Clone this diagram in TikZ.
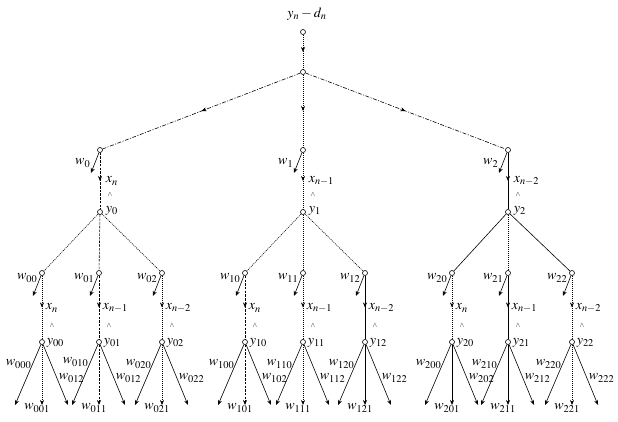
\documentclass[tikz,border=0pt]{standalone}
\usepackage{mathptmx}
\usetikzlibrary{arrows.meta,decorations.markings}

\tikzset{
  pt/.style={circle,draw,fill=white,inner sep=0pt,minimum size=5pt},
  lbl/.style={inner sep=0.5pt,font=\fontsize{14}{16}\selectfont},
  hat/.style={inner sep=0pt,font=\scriptsize},
  tip/.style={-{Stealth[length=5pt,width=4pt]}},
  mid/.style={postaction={decorate},
    decoration={markings,mark=at position 0.5 with {\arrow{Stealth[length=5pt,width=4pt]}}}},
  dt/.style={dash pattern=on 1pt off 1pt},
  ds/.style={dash pattern=on 2.5pt off 1.2pt},
  dd/.style={dash pattern=on 4pt off 1.5pt on 1pt off 1.5pt},
}

\begin{document}
\begin{tikzpicture}[x=1pt,y=-1pt,line width=0.6pt]
  \useasboundingbox (0,0) rectangle (618,422);

  % top and root
  \node[lbl] (lt) at (307,14) {$y_n-d_n$};
  \node[pt] (s) at (303,32) {};
  \node[pt] (r) at (303,72) {};

  % first level
  \draw
    (100,150) node[pt] (n0) {}
    (303,150) node[pt] (n1) {}
    (508,150) node[pt] (n2) {}
    (100,212) node[pt] (y0) {}
    (303,212) node[pt] (y1) {}
    (508,212) node[pt] (y2) {};
  \coordinate (e0) at (91,173);
  \coordinate (e1) at (294,173);
  \coordinate (e2) at (499,173);
  \node[lbl,anchor=east] (lw0) at (91,163) {$w_0$};
  \node[lbl,anchor=east] (lw1) at (294,163) {$w_1$};
  \node[lbl,anchor=east] (lw2) at (499,163) {$w_2$};
  \node[lbl,anchor=west] (lx0) at (105,181) {$x_n$};
  \node[lbl,anchor=west] (lx1) at (308,181) {$x_{n-1}$};
  \node[lbl,anchor=west] (lx2) at (513,181) {$x_{n-2}$};
  \node[hat] (h0) at (110,195) {$\wedge$};
  \node[hat] (h1) at (313,195) {$\wedge$};
  \node[hat] (h2) at (518,195) {$\wedge$};
  \node[lbl,anchor=west] (ly0) at (105,211) {$y_0$};
  \node[lbl,anchor=west] (ly1) at (308,211) {$y_1$};
  \node[lbl,anchor=west] (ly2) at (513,211) {$y_2$};

  % second level, group 0
  \draw
    (42,273) node[pt] (n00) {}
    (99,273) node[pt] (n01) {}
    (162,273) node[pt] (n02) {}
    (42,342) node[pt] (y00) {}
    (99,342) node[pt] (y01) {}
    (162,342) node[pt] (y02) {};
  \coordinate (e00) at (33,296);
  \coordinate (e01) at (90,296);
  \coordinate (e02) at (153,296);
  \coordinate (a00) at (15,405);
  \coordinate (b00) at (42,405);
  \coordinate (c00) at (68,405);
  \coordinate (a01) at (72,405);
  \coordinate (b01) at (99,405);
  \coordinate (c01) at (125,405);
  \coordinate (a02) at (135,405);
  \coordinate (b02) at (162,405);
  \coordinate (c02) at (188,405);
  \node[lbl,anchor=east] (lw00) at (38,278) {$w_{00}$};
  \node[lbl,anchor=east] (lw01) at (95,278) {$w_{01}$};
  \node[lbl,anchor=east] (lw02) at (158,278) {$w_{02}$};
  \node[lbl,anchor=west] (lx00) at (45,308) {$x_n$};
  \node[lbl,anchor=west] (lx01) at (102,308) {$x_{n-1}$};
  \node[lbl,anchor=west] (lx02) at (165,308) {$x_{n-2}$};
  \node[hat] (h00) at (52,326) {$\wedge$};
  \node[hat] (h01) at (109,326) {$\wedge$};
  \node[hat] (h02) at (172,326) {$\wedge$};
  \node[lbl,anchor=west] (ly00) at (46,343) {$y_{00}$};
  \node[lbl,anchor=west] (ly01) at (103,343) {$y_{01}$};
  \node[lbl,anchor=west] (ly02) at (166,343) {$y_{02}$};
  \node[lbl,anchor=east] (lw000) at (32,364) {$w_{000}$};
  \node[lbl,anchor=east] (lw010) at (89,362) {$w_{010}$};
  \node[lbl,anchor=east] (lw020) at (152,364) {$w_{020}$};
  \node[lbl,anchor=west] (lw002) at (58,378) {$w_{012}$};
  \node[lbl,anchor=west] (lw012) at (115,378) {$w_{012}$};
  \node[lbl,anchor=west] (lw022) at (178,378) {$w_{022}$};
  \node[lbl] (lw001) at (37,408) {$w_{001}$};
  \node[lbl] (lw011) at (94,408) {$w_{011}$};
  \node[lbl] (lw021) at (157,408) {$w_{021}$};

  % second level, group 1
  \draw
    (245,273) node[pt] (n10) {}
    (303,273) node[pt] (n11) {}
    (365,273) node[pt] (n12) {}
    (245,342) node[pt] (y10) {}
    (303,342) node[pt] (y11) {}
    (365,342) node[pt] (y12) {};
  \coordinate (e10) at (236,296);
  \coordinate (e11) at (294,296);
  \coordinate (e12) at (356,296);
  \coordinate (a10) at (218,405);
  \coordinate (b10) at (245,405);
  \coordinate (c10) at (271,405);
  \coordinate (a11) at (276,405);
  \coordinate (b11) at (303,405);
  \coordinate (c11) at (329,405);
  \coordinate (a12) at (338,405);
  \coordinate (b12) at (365,405);
  \coordinate (c12) at (391,405);
  \node[lbl,anchor=east] (lw10) at (241,278) {$w_{10}$};
  \node[lbl,anchor=east] (lw11) at (299,278) {$w_{11}$};
  \node[lbl,anchor=east] (lw12) at (361,278) {$w_{12}$};
  \node[lbl,anchor=west] (lx10) at (248,308) {$x_n$};
  \node[lbl,anchor=west] (lx11) at (306,308) {$x_{n-1}$};
  \node[lbl,anchor=west] (lx12) at (368,308) {$x_{n-2}$};
  \node[hat] (h10) at (255,326) {$\wedge$};
  \node[hat] (h11) at (313,326) {$\wedge$};
  \node[hat] (h12) at (375,326) {$\wedge$};
  \node[lbl,anchor=west] (ly10) at (249,343) {$y_{10}$};
  \node[lbl,anchor=west] (ly11) at (307,343) {$y_{11}$};
  \node[lbl,anchor=west] (ly12) at (369,343) {$y_{12}$};
  \node[lbl,anchor=east] (lw100) at (235,364) {$w_{100}$};
  \node[lbl,anchor=east] (lw110) at (293,364) {$w_{110}$};
  \node[lbl,anchor=east] (lw120) at (355,364) {$w_{120}$};
  \node[lbl,anchor=west] (lw102) at (261,378) {$w_{102}$};
  \node[lbl,anchor=west] (lw112) at (319,378) {$w_{112}$};
  \node[lbl,anchor=west] (lw122) at (381,378) {$w_{122}$};
  \node[lbl] (lw101) at (240,408) {$w_{101}$};
  \node[lbl] (lw111) at (298,408) {$w_{111}$};
  \node[lbl] (lw121) at (360,408) {$w_{121}$};

  % second level, group 2
  \draw
    (452,273) node[pt] (n20) {}
    (508,273) node[pt] (n21) {}
    (572,273) node[pt] (n22) {}
    (452,342) node[pt] (y20) {}
    (508,342) node[pt] (y21) {}
    (572,342) node[pt] (y22) {};
  \coordinate (e20) at (443,296);
  \coordinate (e21) at (499,296);
  \coordinate (e22) at (563,296);
  \coordinate (a20) at (425,405);
  \coordinate (b20) at (452,405);
  \coordinate (c20) at (478,405);
  \coordinate (a21) at (481,405);
  \coordinate (b21) at (508,405);
  \coordinate (c21) at (534,405);
  \coordinate (a22) at (545,405);
  \coordinate (b22) at (572,405);
  \coordinate (c22) at (598,405);
  \node[lbl,anchor=east] (lw20) at (448,278) {$w_{20}$};
  \node[lbl,anchor=east] (lw21) at (504,278) {$w_{21}$};
  \node[lbl,anchor=east] (lw22) at (568,278) {$w_{22}$};
  \node[lbl,anchor=west] (lx20) at (455,308) {$x_n$};
  \node[lbl,anchor=west] (lx21) at (511,308) {$x_{n-1}$};
  \node[lbl,anchor=west] (lx22) at (575,308) {$x_{n-2}$};
  \node[hat] (h20) at (462,326) {$\wedge$};
  \node[hat] (h21) at (518,326) {$\wedge$};
  \node[hat] (h22) at (582,326) {$\wedge$};
  \node[lbl,anchor=west] (ly20) at (456,343) {$y_{20}$};
  \node[lbl,anchor=west] (ly21) at (512,343) {$y_{21}$};
  \node[lbl,anchor=west] (ly22) at (576,343) {$y_{22}$};
  \node[lbl,anchor=east] (lw200) at (442,364) {$w_{200}$};
  \node[lbl,anchor=east] (lw210) at (498,364) {$w_{210}$};
  \node[lbl,anchor=east] (lw220) at (562,364) {$w_{220}$};
  \node[lbl,anchor=west] (lw202) at (468,378) {$w_{202}$};
  \node[lbl,anchor=west] (lw212) at (524,378) {$w_{212}$};
  \node[lbl,anchor=west] (lw222) at (588,378) {$w_{222}$};
  \node[lbl] (lw201) at (447,408) {$w_{201}$};
  \node[lbl] (lw211) at (503,408) {$w_{211}$};
  \node[lbl] (lw221) at (567,408) {$w_{221}$};

  % connectors
  \draw[dt,mid] (s) -- (r);
  \draw[dd,mid] (r) -- (n0);
  \draw[dt,mid] (r) -- (n1);
  \draw[dd,mid] (r) -- (n2);
  \begin{scope}[tip]
    \draw (n0) -- (e0);
    \draw (n1) -- (e1);
    \draw (n2) -- (e2);
    \draw (n00) -- (e00);
    \draw (n01) -- (e01);
    \draw (n02) -- (e02);
    \draw (n10) -- (e10);
    \draw (n11) -- (e11);
    \draw (n12) -- (e12);
    \draw (n20) -- (e20);
    \draw (n21) -- (e21);
    \draw (n22) -- (e22);
  \end{scope}
  \draw[ds,mid] (n0) -- (y0);
  \draw[dt,mid] (n1) -- (y1);
  \draw[mid] (n2) -- (y2);

  \draw[dt] (y0) -- (n00);
  \draw[ds] (y0) -- (n01);
  \draw[dt] (y0) -- (n02);
  \draw[dt] (y1) -- (n10);
  \draw[dt] (y1) -- (n11);
  \draw[dt] (y1) -- (n12);
  \draw (y2) -- (n20);
  \draw[dt] (y2) -- (n21);
  \draw (y2) -- (n22);

  \draw[dt,mid] (n00) -- (y00);
  \draw[ds,mid] (n01) -- (y01);
  \draw[dt,mid] (n02) -- (y02);
  \draw[ds,mid] (n10) -- (y10);
  \draw[dt,mid] (n11) -- (y11);
  \draw[mid] (n12) -- (y12);
  \draw[dt,mid] (n20) -- (y20);
  \draw[mid] (n21) -- (y21);
  \draw[dt,mid] (n22) -- (y22);

  \begin{scope}[tip]
    \draw (y00) -- (a00);
    \draw[dt] (y00) -- (b00);
    \draw (y00) -- (c00);
    \draw (y01) -- (a01);
    \draw[ds] (y01) -- (b01);
    \draw (y01) -- (c01);
    \draw (y02) -- (a02);
    \draw[dt] (y02) -- (b02);
    \draw (y02) -- (c02);
    \draw (y10) -- (a10);
    \draw[ds] (y10) -- (b10);
    \draw (y10) -- (c10);
    \draw (y11) -- (a11);
    \draw[dt] (y11) -- (b11);
    \draw (y11) -- (c11);
    \draw (y12) -- (a12);
    \draw (y12) -- (b12);
    \draw (y12) -- (c12);
    \draw (y20) -- (a20);
    \draw (y20) -- (b20);
    \draw (y20) -- (c20);
    \draw (y21) -- (a21);
    \draw (y21) -- (b21);
    \draw (y21) -- (c21);
    \draw (y22) -- (a22);
    \draw[dt] (y22) -- (b22);
    \draw (y22) -- (c22);
  \end{scope}
\end{tikzpicture}
\end{document}
